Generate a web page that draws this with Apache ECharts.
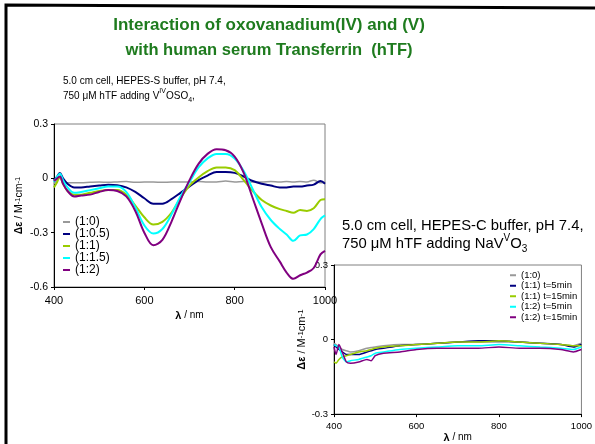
<!DOCTYPE html>
<html><head><meta charset="utf-8">
<script src="https://cdn.jsdelivr.net/npm/echarts@6/dist/echarts.min.js"></script>
<style>html,body{margin:0;padding:0;background:#fff}#c{width:595px;height:444px}</style>
</head><body><div id="c"></div>
<script>
// ---- Chart 1: VIVOSO4 titration ----
var lambda1 = [400,407,413,420,430,445,460,480,500,520,540,560,580,600,620,640,660,680,700,720,740,760,780,800,820,840,860,880,900,915,930,945,960,975,990,1000];
var s1_10  = [-0.03,-0.01,0.0,-0.02,-0.025,-0.025,-0.025,-0.022,-0.02,-0.022,-0.02,-0.018,-0.022,-0.02,-0.02,-0.022,-0.02,-0.02,-0.02,-0.018,-0.02,-0.02,-0.015,-0.02,-0.018,-0.02,-0.02,-0.018,-0.02,-0.018,-0.02,-0.018,-0.02,-0.01,-0.025,-0.02];
var s1_105 = [-0.01,0.01,0.03,0.0,-0.03,-0.05,-0.05,-0.045,-0.04,-0.035,-0.038,-0.05,-0.075,-0.11,-0.14,-0.14,-0.115,-0.08,-0.045,-0.01,0.015,0.035,0.035,0.03,0.01,-0.015,-0.03,-0.04,-0.05,-0.05,-0.045,-0.045,-0.04,-0.035,-0.015,-0.03];
var s1_11  = [-0.05,-0.02,0.01,-0.03,-0.07,-0.09,-0.09,-0.08,-0.07,-0.065,-0.065,-0.09,-0.15,-0.215,-0.255,-0.24,-0.19,-0.11,-0.04,0.005,0.04,0.06,0.06,0.045,-0.01,-0.07,-0.12,-0.15,-0.17,-0.18,-0.19,-0.175,-0.18,-0.165,-0.12,-0.115];
var s1_115 = [-0.02,0.01,0.025,-0.01,-0.05,-0.08,-0.075,-0.065,-0.055,-0.045,-0.045,-0.075,-0.16,-0.26,-0.305,-0.28,-0.2,-0.1,-0.02,0.06,0.11,0.135,0.135,0.11,0.04,-0.06,-0.16,-0.23,-0.28,-0.31,-0.345,-0.315,-0.31,-0.28,-0.225,-0.205];
var s1_12  = [-0.015,0.0,0.01,-0.03,-0.07,-0.1,-0.095,-0.09,-0.075,-0.065,-0.07,-0.1,-0.18,-0.3,-0.37,-0.34,-0.24,-0.12,-0.01,0.08,0.135,0.16,0.155,0.12,0.03,-0.11,-0.25,-0.38,-0.46,-0.52,-0.555,-0.535,-0.52,-0.495,-0.42,-0.4];
var names1 = ['(1:0)','(1:0.5)','(1:1)','(1:1.5)','(1:2)'];

// ---- Chart 2: NaVVO3 ----
var lambda2 = [400,405,412,420,430,440,460,480,490,500,520,560,600,650,700,750,800,850,900,950,980,1000];
var s2_10   = [-0.015,-0.02,-0.03,-0.04,-0.045,-0.05,-0.045,-0.035,-0.032,-0.03,-0.025,-0.02,-0.02,-0.015,-0.01,-0.01,-0.01,-0.01,-0.015,-0.02,-0.025,-0.015];
var s2_11a  = [-0.02,-0.03,-0.04,-0.05,-0.06,-0.06,-0.06,-0.05,-0.045,-0.04,-0.035,-0.025,-0.02,-0.015,-0.01,-0.005,-0.005,-0.01,-0.015,-0.02,-0.03,-0.02];
var s2_11b  = [-0.09,-0.095,-0.08,-0.07,-0.065,-0.06,-0.05,-0.045,-0.04,-0.035,-0.03,-0.025,-0.02,-0.015,-0.01,-0.01,-0.005,-0.01,-0.015,-0.02,-0.025,-0.025];
var s2_12a  = [-0.02,-0.025,-0.03,-0.07,-0.09,-0.085,-0.08,-0.07,-0.065,-0.055,-0.05,-0.04,-0.035,-0.03,-0.025,-0.025,-0.02,-0.025,-0.03,-0.035,-0.04,-0.03];
var s2_12b  = [-0.03,-0.06,-0.02,-0.05,-0.09,-0.095,-0.09,-0.08,-0.085,-0.065,-0.055,-0.05,-0.04,-0.035,-0.035,-0.035,-0.03,-0.035,-0.035,-0.04,-0.05,-0.04];
var names2 = ['(1:0) ','(1:1) t=5min','(1:1) t=15min','(1:2) t=5min','(1:2) t=15min'];

var colors = ['#999999','#000080','#99cc00','#00ffff','#800080'];

function pairs(xs, ys){ return xs.map(function(x,i){ return [x, ys[i]]; }); }

var FONT = '"Liberation Sans", Arial, sans-serif';
var chart = echarts.init(document.getElementById('c'), null, {renderer:'canvas'});

function xAxisCfg(idx, fs, gap, nfs){
  return {type:'value', gridIndex: idx, min: 400, max: 1000, interval: 200,
    name: '{b|λ} / nm', nameLocation:'middle', nameGap: gap,
    nameTextStyle:{fontFamily: FONT, fontSize: nfs, color:'#000', rich:{b:{fontWeight:'bold', fontSize:nfs+1, fontFamily: FONT}}},
    axisLine:{show:true, onZero:false, lineStyle:{color:'#000', width:1}},
    axisTick:{show:true, length:3, lineStyle:{color:'#000'}},
    axisLabel:{fontFamily: FONT, fontSize: fs, color:'#000', margin: idx===0 ? 8 : 7, formatter: function(v){ return String(v); }},
    splitLine:{show:false}};
}
function yAxisCfg(idx, min, fs, gap, nfs){
  return {type:'value', gridIndex: idx, min: min, max: 0.3, interval: 0.3,
    name: '{b|Δε} / M{s|-1}cm{s|-1}', nameLocation:'middle', nameGap: gap, nameRotate: 90,
    nameTextStyle: {fontFamily: FONT, fontSize: nfs, color:'#000',
      rich: {b:{fontWeight:'bold', fontSize: nfs, fontFamily: FONT}, s:{fontSize: nfs-3, verticalAlign:'top', fontFamily: FONT}}},
    axisLine:{show:true, onZero:false, lineStyle:{color:'#000', width:1}},
    axisTick:{show:true, length:3, lineStyle:{color:'#000'}},
    axisLabel:{fontFamily: FONT, fontSize: fs, color:'#000', margin: 6,
      formatter: function(v){ var r = Math.round(v*10)/10; return r===0 ? '0' : r.toFixed(1); }},
    splitLine:{show:false}};
}

var series = [];
[s1_10, s1_105, s1_11, s1_115, s1_12].forEach(function(d,i){
  series.push({type:'line', name: names1[i], xAxisIndex:0, yAxisIndex:0, data: pairs(lambda1, d),
    showSymbol:false, smooth:0.35, color: colors[i], lineStyle:{width: i===0 ? 1.5 : 2, color: colors[i]}, z: 3+i});
});
[s2_10, s2_11a, s2_11b, s2_12a, s2_12b].forEach(function(d,i){
  series.push({type:'line', name: names2[i], xAxisIndex:1, yAxisIndex:1, data: pairs(lambda2, d),
    showSymbol:false, smooth:0.2, color: colors[i], lineStyle:{width:1.5, color: colors[i]}, z: 3+i});
});

var option = {
  animation: false,
  backgroundColor: '#fff',
  grid: [
    {left: 54, top: 124, width: 271, height: 163, show: true, borderColor:'#808080', borderWidth:1, backgroundColor:'transparent'},
    {left: 334, top: 265, width: 249, height: 151, show: true, borderColor:'#808080', borderWidth:1, backgroundColor:'transparent'}
  ],
  xAxis: [xAxisCfg(0, 11, 23, 10), xAxisCfg(1, 9.5, 13, 10)],
  yAxis: [yAxisCfg(0, -0.6, 10.5, 29, 10.5), yAxisCfg(1, -0.3, 9.5, 21, 11)],
  legend: [
    {orient:'vertical', left: 63, top: 216, padding: 0, itemWidth: 7, itemHeight: 2, itemGap: 0, itemTextGap: 1, icon:'rect',
      data: names1, textStyle:{fontFamily: FONT, fontSize: 12, lineHeight: 12, color:'#000'}},
    {orient:'vertical', left: 510, top: 270, padding: 0, itemWidth: 6, itemHeight: 2, itemGap: 0, itemTextGap: 2, icon:'rect',
      data: names2, formatter: function(n){ return n.trim(); },
      textStyle:{fontFamily: FONT, fontSize: 9.5, lineHeight: 10.5, color:'#000'}}
  ],
  graphic: [
    {type:'polyline', shape:{points:[[6,444],[6,5],[595,8]]}, style:{stroke:'#000', lineWidth:3, fill:null}, silent:true},
    {type:'text', x: 269, y: 17, style:{text:'Interaction of oxovanadium(IV) and (V)', font:'bold 17px "Liberation Sans", Arial', fill:'#1e7b1e', textAlign:'center'}},
    {type:'text', x: 269, y: 42, style:{text:'with human serum Transferrin  (hTF)', font:'bold 16.5px "Liberation Sans", Arial', fill:'#1e7b1e', textAlign:'center'}},
    {type:'text', x: 63, y: 75, scaleY: 1.15, style:{text:'5.0 cm cell, HEPES-S buffer, pH 7.4,', font:'10px "Liberation Sans", Arial', fill:'#000'}},
    {type:'text', x: 63, y: 87, scaleY: 1.15, style:{text:'{n|750 μM hTF adding V}{p|IV}{n|OSO}{q|4}{n|,}', fill:'#000',
      rich:{n:{fontSize:10, fontFamily: FONT, lineHeight:15, verticalAlign:'middle'}, p:{fontSize:7, fontFamily: FONT, lineHeight:15, verticalAlign:'top'}, q:{fontSize:7, fontFamily: FONT, lineHeight:15, verticalAlign:'bottom'}}}},
    {type:'text', x: 342, y: 218, style:{text:'5.0 cm cell, HEPES-C buffer, pH 7.4,', font:'14.8px "Liberation Sans", Arial', fill:'#000'}},
    {type:'text', x: 342, y: 233, style:{text:'{n|750 μM hTF adding NaV}{p|V}{n|O}{q|3}', fill:'#000',
      rich:{n:{fontSize:14.8, fontFamily: FONT, lineHeight:21, verticalAlign:'middle'}, p:{fontSize:10, fontFamily: FONT, lineHeight:21, verticalAlign:'top'}, q:{fontSize:10, fontFamily: FONT, lineHeight:21, verticalAlign:'bottom'}}}}
  ],
  series: series
};
chart.setOption(option);
</script></body></html>
